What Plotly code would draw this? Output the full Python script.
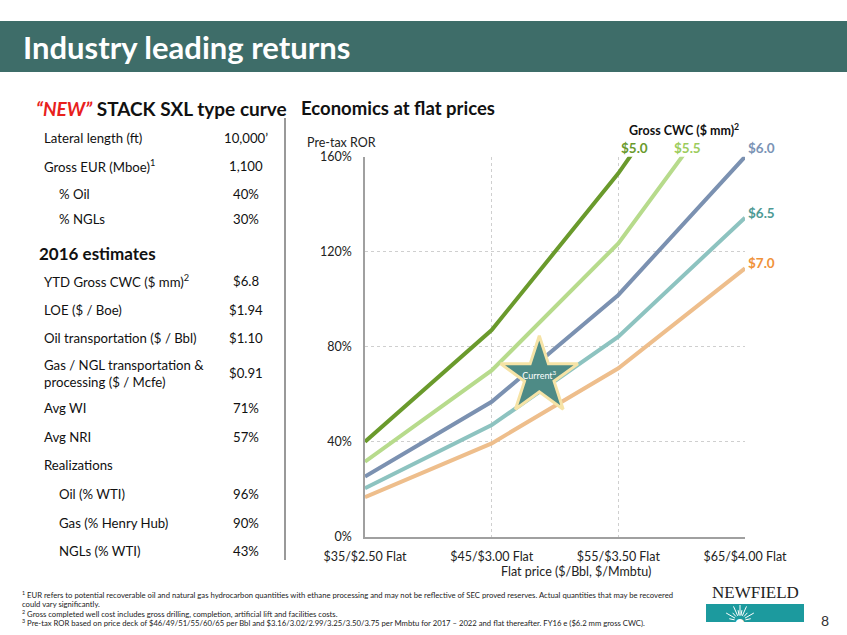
import math
import plotly.graph_objects as go

W, H = 847, 635

# ---- data ----
price_labels = ["$35/$2.50 Flat", "$45/$3.00 Flat", "$55/$3.50 Flat", "$65/$4.00 Flat"]
cwc_labels = ["$5.0", "$5.5", "$6.0", "$6.5", "$7.0"]
ror_50 = [40, 87, 153, 229]
ror_55 = [31.6, 70, 123.5, 196]
ror_60 = [25.3, 56.8, 101.8, 160]
ror_65 = [20.4, 47, 84.2, 134.3]
ror_70 = [16.6, 39.3, 70.9, 113]
star_pos = [1.376]
star_ror = [67.5]
y_ticks = [0, 40, 80, 120, 160]
y_tick_labels = ["0%", "40%", "80%", "120%", "160%"]

type_curve_labels = ["Lateral length (ft)", "Gross EUR (Mboe)<sup>1</sup>", "% Oil", "% NGLs"]
type_curve_values = ["10,000’", "1,100", "40%", "30%"]
est_labels = ["YTD Gross CWC ($ mm)<sup>2</sup>", "LOE ($ / Boe)", "Oil transportation ($ / Bbl)",
              "Gas / NGL transportation &<br>processing ($ / Mcfe)", "Avg WI", "Avg NRI",
              "Realizations", "Oil (% WTI)", "Gas (% Henry Hub)", "NGLs (% WTI)"]
est_values = ["$6.8", "$1.94", "$1.10", "$0.91", "71%", "57%", "", "96%", "90%", "43%"]

footnotes = [
    "<sup>1</sup> EUR refers to potential recoverable oil and natural gas hydrocarbon quantities with ethane processing and may not be reflective of SEC proved reserves. Actual quantities that may be recovered",
    "could vary significantly.",
    "<sup>2</sup> Gross completed well cost includes gross drilling, completion, artificial lift and facilities costs.",
    "<sup>3</sup> Pre-tax ROR based on price deck of $46/49/51/55/60/65 per Bbl and $3.16/3.02/2.99/3.25/3.50/3.75 per Mmbtu for 2017 – 2022 and flat thereafter. FY16 e ($6.2 mm gross CWC).",
]

line_colors = ["#6A9A2C", "#B7DB8C", "#7B91B1", "#8DC3C0", "#EEBE8C"]
label_colors = ["#6A9A2C", "#9CCC5C", "#7B93B5", "#4E9A95", "#F0923A"]

FONT = "Lato"


def px(x):
    return x / W


def py(y):
    return 1 - y / H


fig = go.Figure()
series = [ror_50, ror_55, ror_60, ror_65, ror_70]
xs = list(range(len(price_labels)))
for vals, col, name in zip(series, line_colors, cwc_labels):
    fig.add_trace(go.Scatter(x=xs, y=vals, mode="lines", name=name,
                             line=dict(color=col, width=4), hoverinfo="skip"))

fig.add_trace(go.Scatter(x=star_pos, y=star_ror, mode="markers+text",
                         marker=dict(symbol="star", size=58, color="#4E8B86",
                                     line=dict(color="#F6E3A6", width=3)),
                         text=["Current<sup>3</sup>"], textposition="middle center",
                         textfont=dict(color="white", size=9, family=FONT),
                         hoverinfo="skip"))

x0, x1 = 365, 745
y0, y1 = 536.7, 156.7

AXF = 12.5
fig.update_layout(
    width=W, height=H, margin=dict(l=0, r=0, t=0, b=0, autoexpand=False),
    paper_bgcolor="white", plot_bgcolor="white", showlegend=False,
    font=dict(family=FONT, color="#222222"),
    xaxis=dict(domain=[px(x0), px(x1)], range=[0, 3], tickmode="array", tickvals=xs,
               ticktext=price_labels, automargin=False,
               showgrid=True, gridcolor="#CFCFCF", griddash="dot", gridwidth=1,
               showline=True, linecolor="#A0A0A0", linewidth=1.5, zeroline=False,
               ticks="", tickfont=dict(size=AXF, family=FONT, color="#222"),
               ticklabelstandoff=8, fixedrange=True),
    yaxis=dict(domain=[py(y0), py(y1)], range=[0, 160], tickmode="array", tickvals=y_ticks,
               ticktext=y_tick_labels, automargin=False,
               showgrid=True, gridcolor="#CFCFCF", griddash="dot", gridwidth=1,
               showline=True, linecolor="#A0A0A0", linewidth=1.5, zeroline=False,
               ticks="", tickfont=dict(size=AXF, family=FONT, color="#222"),
               ticklabelstandoff=9, fixedrange=True),
)

shapes = []
ann = []

# header band
shapes.append(dict(type="rect", xref="paper", yref="paper", x0=0, x1=1, y0=py(72), y1=py(21),
                   fillcolor="#3E6D69", line=dict(width=0), layer="below"))
ann.append(dict(text="<b>Industry leading returns</b>", x=px(21), y=py(47), xanchor="left",
                yanchor="middle", font=dict(size=31, color="white", family=FONT)))

# section titles
ann.append(dict(text="<b><i><span style='color:#E8211C'>“NEW”</span></i> STACK SXL type curve</b>",
                x=px(34), y=py(108), xanchor="left", yanchor="middle",
                font=dict(size=19, color="#111", family=FONT)))
ann.append(dict(text="<b>Economics at flat prices</b>", x=px(299), y=py(108), xanchor="left",
                yanchor="middle", font=dict(size=18.5, color="#111", family=FONT)))

# divider line
shapes.append(dict(type="line", xref="paper", yref="paper", x0=px(285), x1=px(285),
                   y0=py(118), y1=py(560), line=dict(color="#777", width=1.5)))

# logo block (shape)
shapes.append(dict(type="rect", xref="paper", yref="paper", x0=px(706), x1=px(804),
                   y0=py(622), y1=py(604), fillcolor="#1C9A9E", line=dict(width=0)))

TF = 13.2
# left table
tc_y = [138, 166, 194, 219]
tc_indent = [False, False, True, True]
for lab, val, yy, ind in zip(type_curve_labels, type_curve_values, tc_y, tc_indent):
    ann.append(dict(text=lab, x=px(57 if ind else 42), y=py(yy), xanchor="left", yanchor="middle",
                    font=dict(size=TF, family=FONT, color="#111")))
    ann.append(dict(text=val, x=px(246), y=py(yy), xanchor="center", yanchor="middle",
                    font=dict(size=TF, family=FONT, color="#111")))

ann.append(dict(text="<b>2016 estimates</b>", x=px(37), y=py(253), xanchor="left", yanchor="middle",
                font=dict(size=17, family=FONT, color="#111")))

est_y = [281, 310, 338, 373, 408, 437, 465, 494, 523, 551]
est_indent = [False, False, False, False, False, False, False, True, True, True]
for lab, val, yy, ind in zip(est_labels, est_values, est_y, est_indent):
    ann.append(dict(text=lab, x=px(57 if ind else 42), y=py(yy), xanchor="left", yanchor="middle",
                    align="left", font=dict(size=TF, family=FONT, color="#111")))
    if val:
        ann.append(dict(text=val, x=px(246), y=py(yy), xanchor="center", yanchor="middle",
                        font=dict(size=TF, family=FONT, color="#111")))

# chart texts
ann.append(dict(text="Pre-tax ROR", x=px(341), y=py(143), xanchor="center", yanchor="middle",
                font=dict(size=12.5, family=FONT, color="#222")))
ann.append(dict(text="Flat price ($/Bbl, $/Mmbtu)", x=px(576), y=py(571), xanchor="center",
                yanchor="middle", font=dict(size=12.5, family=FONT, color="#222")))
ann.append(dict(text="<b>Gross CWC ($ mm)<sup>2</sup></b>", x=px(684), y=py(130), xanchor="center",
                yanchor="middle", font=dict(size=12.5, family=FONT, color="#111")))

label_pos = [(634, 148), (687, 148), (761, 148), (761, 213), (761, 263)]
for lab, col, (lx, ly) in zip(cwc_labels, label_colors, label_pos):
    ann.append(dict(text="<b>" + lab + "</b>", x=px(lx), y=py(ly), xanchor="center", yanchor="middle",
                    font=dict(size=13.5, family=FONT, color=col)))

# footnotes
fn_y = [595, 604, 614, 623]
for t, yy in zip(footnotes, fn_y):
    ann.append(dict(text=t, x=px(20), y=py(yy), xanchor="left", yanchor="middle",
                    font=dict(size=7.7, family=FONT, color="#222")))

# logo text and page number
ann.append(dict(text="NEWFIELD", x=px(755), y=py(592), xanchor="center", yanchor="middle",
                font=dict(size=17, family="Liberation Serif", color="#222")))
ann.append(dict(text="8", x=px(825), y=py(620), xanchor="center", yanchor="middle",
                font=dict(size=14, family=FONT, color="#333")))

# logo block (annotation box, drawn on top) + sunburst rays
ann.append(dict(text=" ", x=px(755), y=py(613), xanchor="center", yanchor="middle",
                width=98, height=18, bgcolor="#1C9A9E", borderpad=0, borderwidth=0,
                font=dict(size=2, color="#1C9A9E")))
cx, cy = 740, 621
for ang in [12, 30, 48, 66, 80, 90, 100, 114, 132, 150, 168]:
    r = 16 if ang in (30, 66, 90, 114, 150) else 11
    tipx = cx + r * math.cos(math.radians(ang))
    tipy = cy - r * math.sin(math.radians(ang))
    tailx = cx + 4 * math.cos(math.radians(ang))
    taily = cy - 4 * math.sin(math.radians(ang))
    ann.append(dict(text="", x=px(tipx), y=py(tipy), showarrow=True, arrowhead=0,
                    arrowwidth=1, arrowcolor="white", ax=tailx - tipx, ay=taily - tipy,
                    standoff=0, startstandoff=0, font=dict(size=1)))
ann.append(dict(text="●", x=px(cx), y=py(cy + 1), xanchor="center", yanchor="middle",
                font=dict(size=11, color="white", family="DejaVu Sans")))

for a in ann:
    a.setdefault("xref", "paper")
    a.setdefault("yref", "paper")
    a.setdefault("showarrow", False)

fig.update_layout(shapes=shapes, annotations=ann)
fig.write_html("out.html", config={"displayModeBar": False},
               post_script="document.body.style.margin='0';document.body.style.overflow='hidden';")
